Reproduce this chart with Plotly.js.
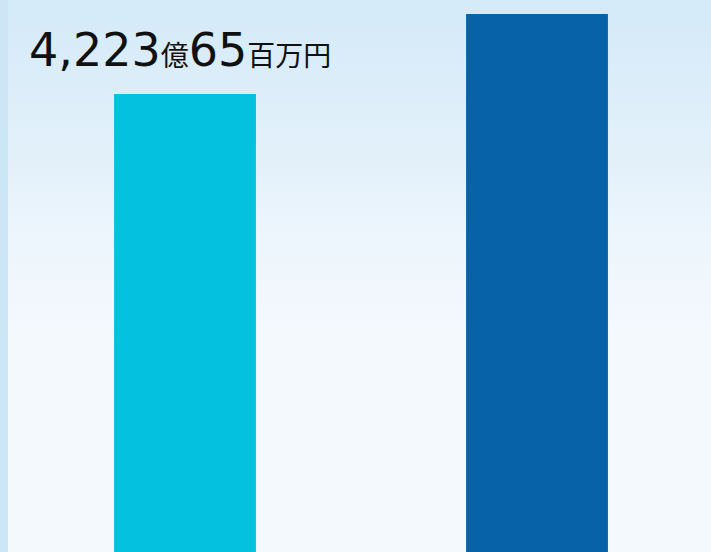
<!DOCTYPE html>
<html>
<head>
<meta charset="utf-8">
<script src="https://cdn.plot.ly/plotly-3.0.1.min.js"></script>
<style>
html,body{margin:0;padding:0;}
#wrap{position:relative;width:711px;height:552px;overflow:hidden;
 background:linear-gradient(to bottom,#D4EAF8 0px,#E2F0FA 150px,#EEF6FD 250px,#F4F9FD 340px,#F4F9FD 552px);}
#strip{position:absolute;left:0;top:0;width:8px;height:552px;background:#CCE6F6;}
#chart{position:absolute;left:0;top:0;width:711px;height:552px;}
</style>
</head>
<body>
<div id="wrap"><div id="strip"></div><div id="chart"></div></div>
<script>
const categories = ["A", "B"];
const values = [4223.65, 4961];
const barColors = ["#04C1E0", "#0762A8"];
const labelMain1 = "4,223";
const labelUnit1 = "億";
const labelMain2 = "65";
const labelUnit2 = "百万円";

const trace = {
  type: "bar",
  x: categories,
  y: values,
  width: 0.403,
  marker: {color: barColors, line: {width: 0}},
  hoverinfo: "none"
};

const unitStyle = "font-size:28px;font-family:\"Noto Sans CJK JP\",sans-serif";

const layout = {
  width: 711, height: 552,
  margin: {l: 0, r: 0, t: 0, b: 0, pad: 0},
  paper_bgcolor: "rgba(0,0,0,0)",
  plot_bgcolor: "rgba(0,0,0,0)",
  showlegend: false,
  xaxis: {type: "category", range: [-0.5256, 1.4943], visible: false, fixedrange: true},
  yaxis: {range: [0, 5090.5], visible: false, fixedrange: true},
  font: {family: "'DejaVu Sans', 'Noto Sans CJK JP', sans-serif", color: "#111111"},
  annotations: [{
    xref: "paper", yref: "paper",
    x: 27/711, y: 1 - 21/552,
    xanchor: "left", yanchor: "top",
    showarrow: false,
    align: "left",
    text: labelMain1 + "<span style='" + unitStyle + "'>" + labelUnit1 + "</span>" +
          labelMain2 + "<span style='" + unitStyle + "'>" + labelUnit2 + "</span>",
    font: {size: 46, color: "#111111", family: "'DejaVu Sans', 'Noto Sans CJK JP', sans-serif"}
  }]
};

Plotly.newPlot("chart", [trace], layout, {staticPlot: true, displayModeBar: false});
</script>
</body>
</html>
